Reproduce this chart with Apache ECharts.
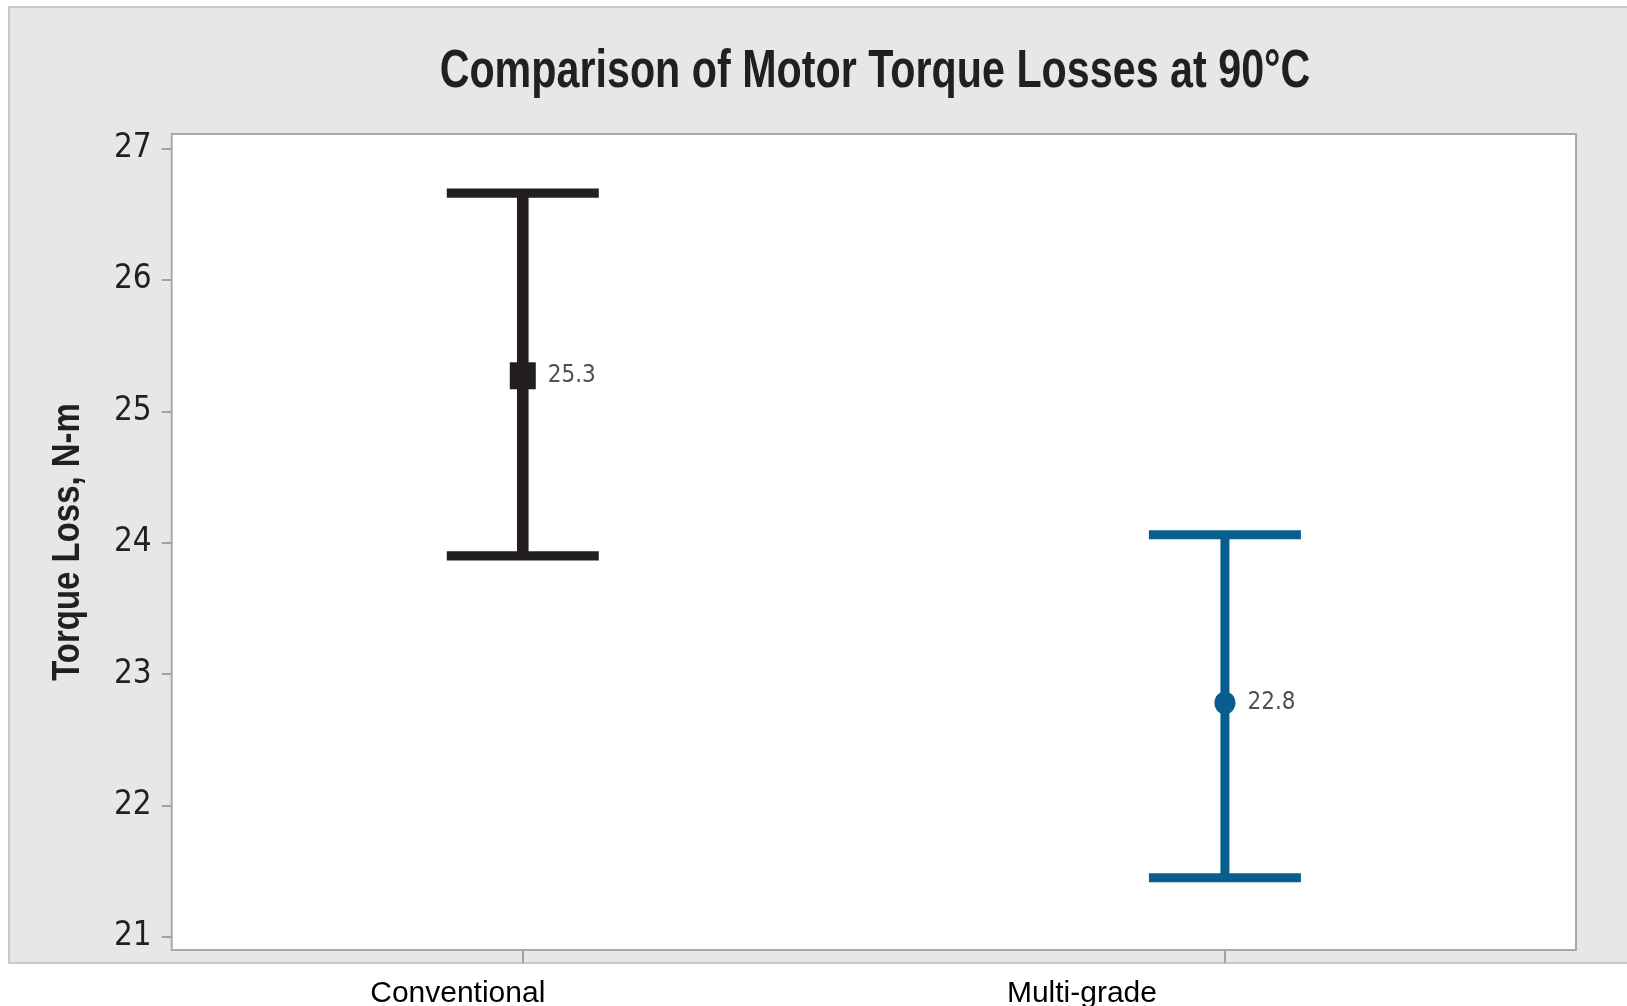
<!DOCTYPE html>
<html>
<head>
<meta charset="utf-8">
<script src="https://cdn.jsdelivr.net/npm/echarts@6/dist/echarts.min.js"></script>
<style>
html,body{margin:0;padding:0;background:#fff;}
#main{width:1627px;height:1006px;}
</style>
</head>
<body>
<div id="main"></div>
<script>
// ---- data ----
const categories = ['Conventional', 'Multi-grade'];
const means = [25.27, 22.78];
const lowers = [23.90, 21.45];
const uppers = [26.66, 24.06];
const meanLabels = ['25.3', '22.8'];
const yTicks = [21, 22, 23, 24, 25, 26, 27];
const titleText = 'Comparison of Motor Torque Losses at 90°C';
const yTitle = 'Torque Loss, N-m';

// ---- styles ----
const colors = ['#231f20', '#0a5e8e'];
const symbols = ['rect', 'circle'];
const symbolSizes = [[26, 27], [21, 23]];
const stemWidths = [11.6, 9];
const capWidths = [9.3, 9];
const cond = "'DejaVu Sans Condensed', 'Liberation Sans Narrow', sans-serif";

const chart = echarts.init(document.getElementById('main'));

const option = {
  animation: false,
  backgroundColor: '#ffffff',
  graphic: [
    {
      type: 'rect',
      z: -100,
      shape: { x: 9, y: 7, width: 1700, height: 956 },
      style: { fill: '#e6e7e8', stroke: '#c8c9ca', lineWidth: 2 }
    },
    {
      type: 'text',
      z: 10,
      x: 875, y: 72,
      scaleX: 0.764,
      style: {
        text: titleText, x: 0, y: 0, align: 'center', verticalAlign: 'middle',
        font: 'bold 54px "Liberation Sans", Arial, sans-serif', fill: '#231f20'
      }
    },
    {
      type: 'text',
      z: 10,
      x: 68, y: 542,
      rotation: Math.PI / 2,
      scaleX: 0.845,
      style: {
        text: yTitle, x: 0, y: 0, align: 'center', verticalAlign: 'middle',
        font: 'bold 39px "Liberation Sans", Arial, sans-serif', fill: '#231f20'
      }
    }
  ],
  grid: {
    left: 171.7, top: 134, right: 51, bottom: 56,
    show: true, backgroundColor: '#ffffff', borderColor: '#a8a9ab', borderWidth: 2,
    containLabel: false,
    outerBoundsMode: 'none'
  },
  xAxis: {
    type: 'category',
    data: categories,
    boundaryGap: true,
    axisLine: { show: false },
    axisTick: { show: true, alignWithLabel: true, length: 13, lineStyle: { color: '#a0a1a3', width: 2 } },
    axisLabel: {
      margin: 29,
      formatter: function (v, i) { return '{c' + i + '|' + v + '}'; },
      rich: {
        c0: { fontFamily: "'Liberation Sans', Arial, sans-serif", fontSize: 30, color: '#000', padding: [0, 130, 0, 0] },
        c1: { fontFamily: "'Liberation Sans', Arial, sans-serif", fontSize: 30, color: '#000', padding: [0, 286, 0, 0] }
      }
    },
    splitLine: { show: false }
  },
  yAxis: {
    type: 'value',
    min: 20.9,
    max: 27.11,
    axisLine: { show: false },
    axisTick: { show: true, length: 10, customValues: yTicks, lineStyle: { color: '#a0a1a3', width: 2 } },
    axisLabel: { margin: 20, customValues: yTicks, fontFamily: cond, fontSize: 33, color: '#231f20' },
    splitLine: { show: false }
  },
  series: [
    {
      type: 'custom',
      data: categories.map((c, i) => [i, lowers[i], uppers[i]]),
      renderItem: function (params, api) {
        const i = api.value(0);
        const lo = api.coord([i, api.value(1)]);
        const hi = api.coord([i, api.value(2)]);
        const half = 76;
        const col = colors[params.dataIndex];
        return {
          type: 'group',
          children: [
            { type: 'line', shape: { x1: lo[0], y1: lo[1], x2: hi[0], y2: hi[1] },
              style: { stroke: col, lineWidth: stemWidths[params.dataIndex] } },
            { type: 'line', shape: { x1: hi[0] - half, y1: hi[1], x2: hi[0] + half, y2: hi[1] },
              style: { stroke: col, lineWidth: capWidths[params.dataIndex] } },
            { type: 'line', shape: { x1: lo[0] - half, y1: lo[1], x2: lo[0] + half, y2: lo[1] },
              style: { stroke: col, lineWidth: capWidths[params.dataIndex] } }
          ]
        };
      },
      z: 2
    },
    {
      type: 'scatter',
      z: 3,
      data: categories.map((c, i) => ({
        value: [i, means[i]],
        symbol: symbols[i],
        symbolSize: symbolSizes[i],
        itemStyle: { color: colors[i], opacity: 1 },
        label: {
          show: true, position: 'right', distance: 12,
          formatter: meanLabels[i],
          fontFamily: cond, fontSize: 24, color: '#4f5052'
        }
      }))
    }
  ]
};
chart.setOption(option);
</script>
</body>
</html>
